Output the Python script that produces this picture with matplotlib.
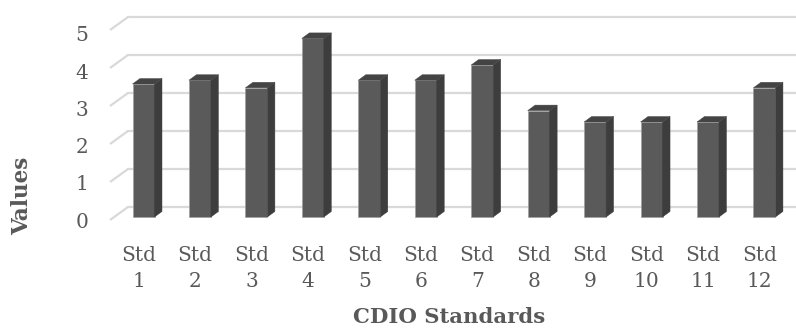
import matplotlib
matplotlib.use("Agg")
import matplotlib.pyplot as plt
from matplotlib.patches import Polygon

categories = ["Std\n1", "Std\n2", "Std\n3", "Std\n4", "Std\n5", "Std\n6",
              "Std\n7", "Std\n8", "Std\n9", "Std\n10", "Std\n11", "Std\n12"]
values = [3.5, 3.6, 3.4, 4.7, 3.6, 3.6, 4.0, 2.8, 2.5, 2.5, 2.5, 3.4]
yticks = [0, 1, 2, 3, 4, 5]
xlabel = "CDIO Standards"
ylabel = "Values"

W, H = 796, 329
fig = plt.figure(figsize=(W / 100, H / 100), dpi=100)
ax = fig.add_axes([0, 0, 1, 1])
ax.axis("off")

# pixel layout -> data mapping
x0_px, dx_px = 143.5, 56.45   # centre of first bar front, spacing
y0_px, dy_px = 217.0, 38.0    # front base of bars, px per unit
ax.set_xlim((0 - x0_px) / dx_px, (W - x0_px) / dx_px)
ax.set_ylim((y0_px - H) / dy_px, (y0_px - 0) / dy_px)

def px2x(p):
    return (p - x0_px) / dx_px

def px2y(p):
    return (y0_px - p) / dy_px

text_col = "#595959"
grid_col = "#d9d9d9"
serif = ["DejaVu Serif"]

# depth offsets (data units)
bdx = 7.5 / dx_px
bdy = 5.5 / dy_px
wall_dx = 18.0 / dx_px
wall_dy = 13.0 / dy_px

# back wall grid lines + floor/side diagonals
wall_x_front = px2x(110)
for v in yticks:
    yf = v - 3.0 / dy_px
    yb = yf + wall_dy
    ax.plot([wall_x_front, wall_x_front + wall_dx], [yf, yb], color=grid_col, lw=1.6, zorder=1,
            solid_capstyle="butt")
    ax.plot([wall_x_front + wall_dx, px2x(W + 5)], [yb, yb], color=grid_col, lw=1.6, zorder=1)

# bars
bw = 22.0 / dx_px
xs = list(range(len(values)))
bars = ax.bar(xs, values, width=bw, bottom=0, color="#5a5a5a", edgecolor="#a0a0a0",
              linewidth=0.5, zorder=3)
for x, v in zip(xs, values):
    xr = x + bw / 2
    xl = x - bw / 2
    side = Polygon([(xr, 0), (xr + bdx, bdy), (xr + bdx, v + bdy), (xr, v)],
                   closed=True, facecolor="#3d3d3d", edgecolor="#3d3d3d", lw=0.3, zorder=3)
    top = Polygon([(xl, v), (xl + bdx, v + bdy), (xr + bdx, v + bdy), (xr, v)],
                  closed=True, facecolor="#444444", edgecolor="#444444", lw=0.3, zorder=3)
    ax.add_patch(side)
    ax.add_patch(top)

# y tick labels
for v in yticks:
    ax.text(px2x(82), px2y(222 - 37.2 * v), str(v), ha="center", va="center",
            fontsize=14.5, color=text_col, family=serif)

# x tick labels (two lines each)
for x, lab in zip(xs, categories):
    first, second = lab.split("\n")
    ax.text(x - 5.0 / dx_px, px2y(261), first, ha="center", va="baseline", fontsize=14.5,
            color=text_col, family=serif)
    ax.text(x - 5.0 / dx_px, px2y(287), second, ha="center", va="baseline", fontsize=14.5,
            color=text_col, family=serif)

# axis titles
ax.text(px2x(449), px2y(317), xlabel, ha="center", va="center", fontsize=15.3,
        fontweight="bold", color=text_col, family=serif)
ax.text(px2x(22), px2y(196), ylabel, ha="center", va="center", fontsize=15.5,
        fontweight="bold", color=text_col, family=serif, rotation=90)

fig.savefig("out.png", dpi=100)
